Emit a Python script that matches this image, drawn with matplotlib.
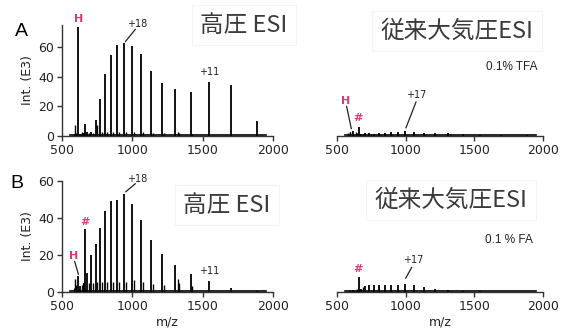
import matplotlib.pyplot as plt

# charge-state series (z = 27 ... 9) and peak m/z
charges = list(range(27, 8, -1))
mz_charge = [628.8, 653.0, 679.1, 707.3, 738.0, 771.5, 808.2, 848.6, 893.2, 942.8,
             998.1, 1060.5, 1131.1, 1211.8, 1305.0, 1413.6, 1542.1, 1696.2, 1884.5]

# intensities (E3) per charge state
int_hp_tfa = [1.5, 2.0, 2.5, 3.0, 11.0, 25.2, 41.8, 55.0, 61.8, 62.9,
              60.7, 55.7, 43.8, 36.0, 31.9, 29.7, 36.6, 34.6, 9.9]
int_conv_tfa = [1.0, 1.2, 1.5, 1.8, 1.8, 1.6, 2.0, 2.0, 2.7, 2.7,
                3.1, 2.7, 2.2, 2.0, 1.8, 1.3, 0.9, 0.7, 0.5]
int_hp_fa = [3.0, 5.0, 10.5, 19.8, 26.2, 34.4, 43.6, 49.0, 50.0, 53.2,
             47.7, 39.1, 28.3, 20.5, 14.4, 9.9, 5.9, 2.2, 0.5]
int_conv_fa = [0.5, 0.8, 1.5, 3.2, 3.6, 3.6, 3.6, 3.6, 3.8, 4.0,
               4.5, 4.0, 2.7, 1.6, 0.9, 0.5, 0.3, 0.2, 0.2]

# heme (H) and the "#" species
mz_heme = 616.2
mz_hash = 662.0
heme_int = {"hp_tfa": 73.7, "conv_tfa": 3.4, "hp_fa": 8.6, "conv_fa": 1.2}
hash_int = {"hp_tfa": 7.9, "conv_tfa": 6.3, "hp_fa": 34.3, "conv_fa": 8.1}

# minor peaks / adducts
minor_mz = [585, 594, 600, 640, 648, 690, 718, 748, 783, 820, 860, 905, 955,
            1010, 1073, 1143, 1224, 1320, 1330, 1425]
minor_hp_tfa = [1.5, 7.4, 2.0, 2.5, 2.0, 2.0, 2.0, 7.4, 2.5, 2.5, 2.5, 2.5, 2.5,
                2.5, 2.5, 2.0, 2.0, 2.5, 2.0, 1.5]
minor_conv_tfa = [2.2, 2.6, 3.0, 2.8, 2.0, 1.5, 1.0, 1.2, 1.0, 0.8, 0.8, 0.8, 0.8,
                  0.8, 0.6, 0.5, 0.5, 0.6, 0.5, 0.3]
minor_hp_fa = [2.0, 7.2, 4.0, 4.0, 5.0, 5.0, 5.0, 5.5, 5.5, 5.5, 5.5, 5.5, 5.5,
               6.5, 5.5, 4.5, 4.0, 7.0, 5.0, 3.0]
minor_conv_fa = [0.8, 0.8, 1.0, 1.2, 1.5, 2.5, 0.8, 0.8, 0.6, 0.6, 0.6, 0.6, 0.6,
                 0.6, 0.5, 0.4, 0.4, 0.8, 0.6, 0.2]

baseline_mz = [560, 1950]
baseline_int = [0.4, 0.4]

W, H = 564, 332
PINK = "#d63a78"
CJK = ["Noto Sans CJK JP", "DejaVu Sans"]

fig = plt.figure(figsize=(W / 100, H / 100), dpi=100)


def px_rect(x0, x1, ytop, ybot):
    return [x0 / W, 1 - ybot / H, (x1 - x0) / W, (ybot - ytop) / H]


ax_a1 = fig.add_axes(px_rect(62, 273.3, 25, 136))
ax_a2 = fig.add_axes(px_rect(336.7, 543.3, 25, 136))
ax_b1 = fig.add_axes(px_rect(62, 273.3, 181, 292))
ax_b2 = fig.add_axes(px_rect(336.7, 543.3, 181, 292))


def draw_spectrum(ax, key, main, minor, ytop, left):
    ax.plot(baseline_mz, baseline_int, color="black", lw=1.2)
    ax.vlines(minor_mz, 0, minor, color="black", lw=1.0)
    ax.vlines(mz_charge, 0, main, color="black", lw=1.3)
    ax.vlines([mz_heme, mz_hash], 0, [heme_int[key], hash_int[key]], color="black", lw=1.3)
    ax.set_xlim(500, 2000)
    ax.set_ylim(0, ytop)
    ax.set_xticks([500, 1000, 1500, 2000])
    for s in ("top", "right"):
        ax.spines[s].set_visible(False)
    for s in ("left", "bottom"):
        ax.spines[s].set_color("#333333")
        ax.spines[s].set_linewidth(1.0)
    ax.tick_params(direction="out", length=3.5, width=1.0, color="#333333",
                   labelsize=9, labelcolor="#222222", pad=2)
    if left:
        ax.set_yticks([0, 20, 40, 60])
        ax.set_ylabel("Int. (E3)", fontsize=9, color="#222222", labelpad=3)
    else:
        ax.spines["left"].set_visible(False)
        ax.set_yticks([])


draw_spectrum(ax_a1, "hp_tfa", int_hp_tfa, minor_hp_tfa, 75, True)
draw_spectrum(ax_a2, "conv_tfa", int_conv_tfa, minor_conv_tfa, 75, False)
draw_spectrum(ax_b1, "hp_fa", int_hp_fa, minor_hp_fa, 60, True)
draw_spectrum(ax_b2, "conv_fa", int_conv_fa, minor_conv_fa, 60, False)

for ax in (ax_b1, ax_b2):
    ax.set_xlabel("m/z", fontsize=9, color="#222222", labelpad=2)


def peak_label(ax, text, x, y, color="#222222", bold=False, size=7):
    ax.text(x, y, text, ha="center", va="bottom", fontsize=size, color=color,
            fontweight="bold" if bold else "normal", clip_on=False)


def leader(ax, x0, y0, x1, y1):
    ax.plot([x0, x1], [y0, y1], color="#222222", lw=0.9, clip_on=False)


i18 = charges.index(18)
i17 = charges.index(17)
i11 = charges.index(11)

# A, high-pressure ESI
peak_label(ax_a1, "H", mz_heme, 76, PINK, True, 8)
peak_label(ax_a1, "+18", 1035, 72.5)
leader(ax_a1, mz_charge[i18] + 8, int_hp_tfa[i18] + 1, 1020, 72)
peak_label(ax_a1, "+11", mz_charge[i11], int_hp_tfa[i11] + 3)

# A, conventional ESI
peak_label(ax_a2, "H", 565, 20.5, PINK, True, 8)
leader(ax_a2, 572, 20, 606, 5)
peak_label(ax_a2, "#", mz_hash - 5, 9, PINK, True, 8)
peak_label(ax_a2, "+17", 1074, 24)
leader(ax_a2, 1076, 23, mz_charge[i17] + 5, int_conv_tfa[i17] + 2.5)

# B, high-pressure ESI
peak_label(ax_b1, "+18", 1035, 58.5)
leader(ax_b1, mz_charge[i18] + 10, int_hp_fa[i18] + 1, 1020, 58.5)
peak_label(ax_b1, "#", mz_hash, hash_int["hp_fa"] + 1, PINK, True, 8)
peak_label(ax_b1, "H", 580, 17.0, PINK, True, 8)
leader(ax_b1, 590, 16.5, mz_heme, heme_int["hp_fa"] + 1)
peak_label(ax_b1, "+11", mz_charge[i11], int_hp_fa[i11] + 2.5)

# B, conventional ESI
peak_label(ax_b2, "#", mz_hash - 5, hash_int["conv_fa"] + 1.5, PINK, True, 8)
peak_label(ax_b2, "+17", 1056, 14.5)
leader(ax_b2, 1044, 13.2, mz_charge[i17] + 3, int_conv_fa[i17] + 3)

# panel letters, titles and solvent notes
box = dict(boxstyle="square,pad=0.35", fc="white", ec="#f4f4f4", lw=0.8)
title_kw = dict(fontsize=17, family=CJK, color="#3a3a3a", ha="center", va="center", bbox=box)
fig.text(21 / W, 1 - 31 / H, "A", fontsize=14, family="Liberation Sans", ha="center", va="center")
fig.text(17 / W, 1 - 184 / H, "B", fontsize=14, family="Liberation Sans", ha="center", va="center")
fig.text(244 / W, 1 - 25 / H, "高圧 ESI", **title_kw)
fig.text(457 / W, 1 - 31 / H, "従来大気圧ESI", **title_kw)
fig.text(227 / W, 1 - 205 / H, "高圧 ESI", **title_kw)
fig.text(451 / W, 1 - 200 / H, "従来大気圧ESI", **title_kw)
fig.text(537 / W, 1 - 67 / H, "0.1% TFA", fontsize=8.5, family="Liberation Sans",
         color="#222222", ha="right", va="center")
fig.text(533 / W, 1 - 240 / H, "0.1 % FA", fontsize=8.5, family="Liberation Sans",
         color="#222222", ha="right", va="center")

fig.savefig("out.png", dpi=100)
